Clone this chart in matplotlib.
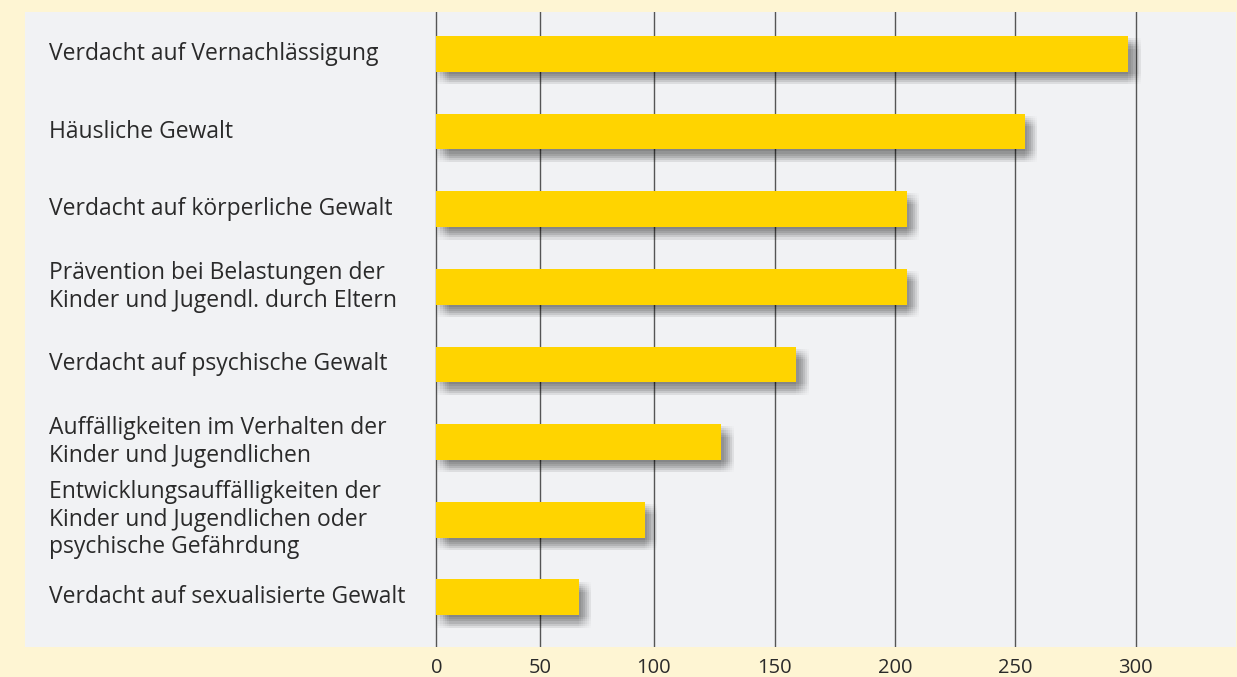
import numpy as np
import matplotlib
matplotlib.use("Agg")
import matplotlib.pyplot as plt
import matplotlib.patheffects as pe
from matplotlib.patches import Rectangle
from matplotlib.transforms import blended_transform_factory

categories = [
    "Verdacht auf Vernachlässigung",
    "Häusliche Gewalt",
    "Verdacht auf körperliche Gewalt",
    "Prävention bei Belastungen der\nKinder und Jugendl. durch Eltern",
    "Verdacht auf psychische Gewalt",
    "Auffälligkeiten im Verhalten der\nKinder und Jugendlichen",
    "Entwicklungsauffälligkeiten der\nKinder und Jugendlichen oder\npsychische Gefährdung",
    "Verdacht auf sexualisierte Gewalt",
]
values = [297, 254, 205, 205, 159, 128, 96, 67]
tick_values = [0, 50, 100, 150, 200, 250, 300]

# the printed axis is not evenly spaced: anchor ticks to where they sit
scale_data = [-100, 0, 50, 100, 150, 200, 250, 300, 350, 400]
scale_px = [228.0, 436.3, 540.4, 653.6, 774.8, 894.9, 1015.0, 1135.7, 1255.7, 1375.7]


def fwd(x):
    return np.interp(x, scale_data, scale_px)


def inv(p):
    return np.interp(p, scale_px, scale_data)


cream = "#FEF5D3"
panel = "#F1F2F4"
yellow = "#FFD400"
text_col = "#2A2A2A"
grid_col = "#555555"

W, H = 1237, 677
fig = plt.figure(figsize=(W / 100, H / 100), dpi=100)
fig.patch.set_facecolor(cream)
fig.add_artist(Rectangle((25 / W, (H - 647) / H), (1236 - 25) / W, (647 - 12) / H,
                         transform=fig.transFigure, facecolor=panel, edgecolor="none", zorder=0))

ax_left, ax_right = 420, 1236
ax = fig.add_axes([ax_left / W, (H - 647) / H, (ax_right - ax_left) / W, (647 - 12) / H])
ax.set_facecolor("none")
ax.set_xscale("function", functions=(fwd, inv))
ax.set_xlim(inv(ax_left), inv(ax_right))
ax.set_ylim(7.64, -0.54)

for t in tick_values:
    ax.axvline(t, color=grid_col, lw=1.0, zorder=1)

# soft drop shadow built from stacked faint offsets
shadow = []
for dx in range(0, 13, 2):
    for dy in range(2, 14, 2):
        shadow.append(pe.SimplePatchShadow(offset=(dx * 0.75, -dy * 0.75),
                                           shadow_rgbFace="#000000", alpha=0.011))
shadow.append(pe.Normal())

y = np.arange(len(categories))
bars = ax.barh(y, values, height=0.46, color=yellow, zorder=2)
for b in bars:
    b.set_path_effects(shadow)

lbl_tr = blended_transform_factory(fig.transFigure, ax.transData)
for i, c in enumerate(categories):
    ax.text(49 / W, i, c, transform=lbl_tr, ha="left", va="center",
            fontsize=16.5, family="Open Sans", color=text_col, linespacing=1.2)

ax.set_xticks(tick_values)
ax.set_xticklabels([str(t) for t in tick_values], family="Open Sans", fontsize=14.5, color=text_col)
ax.tick_params(axis="x", length=0, pad=8)
ax.set_yticks([])
for s in ax.spines.values():
    s.set_visible(False)

fig.savefig("out.png", dpi=100, facecolor=fig.get_facecolor())
